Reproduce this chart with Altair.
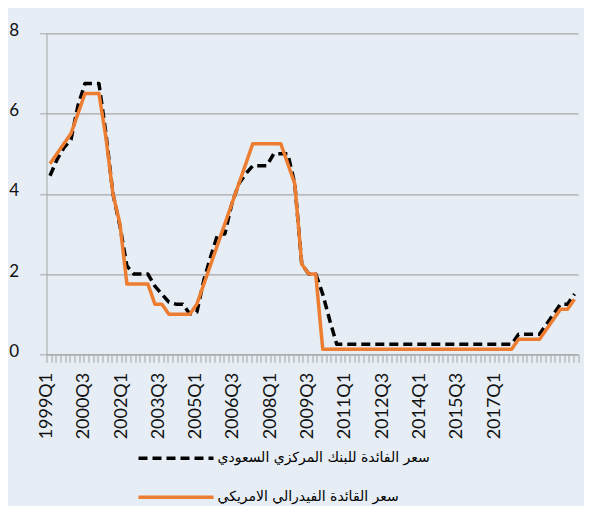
import json
import altair as alt
import pandas as pd

# ---- data ----
years = list(range(1999, 2018))
quarters = [f"{y}Q{q}" for y in years for q in (1, 2, 3, 4)]  # 76 quarters

saudi_name = "سعر الفائدة للبنك المركزي السعودي"
fed_name = "سعر القائدة الفيدرالي الامريكي"

saudi = [
    4.45, 4.85, 5.15, 5.35,   # 1999
    6.2, 6.75, 6.75, 6.75,    # 2000
    5.5, 4.0, 3.2, 2.2,       # 2001
    2.0, 2.0, 2.0, 1.7,       # 2002
    1.5, 1.3, 1.25, 1.25,     # 2003
    1.0, 1.05, 1.85, 2.45,    # 2004
    3.0, 3.0, 3.75, 4.25,     # 2005
    4.5, 4.7, 4.7, 4.7,       # 2006
    5.0, 5.0, 5.0, 4.25,      # 2007
    2.25, 2.0, 2.0, 1.5,      # 2008
    0.85, 0.25, 0.25, 0.25,   # 2009
    0.25, 0.25, 0.25, 0.25,   # 2010
    0.25, 0.25, 0.25, 0.25,   # 2011
    0.25, 0.25, 0.25, 0.25,   # 2012
    0.25, 0.25, 0.25, 0.25,   # 2013
    0.25, 0.25, 0.25, 0.25,   # 2014
    0.25, 0.25, 0.25, 0.5,    # 2015
    0.5, 0.5, 0.5, 0.75,      # 2016
    1.0, 1.25, 1.25, 1.5,     # 2017
]

fed = [
    4.75, 5.0, 5.25, 5.5,     # 1999
    6.0, 6.5, 6.5, 6.5,       # 2000
    5.4, 4.0, 3.25, 1.75,     # 2001
    1.75, 1.75, 1.75, 1.25,   # 2002
    1.25, 1.0, 1.0, 1.0,      # 2003
    1.0, 1.25, 1.75, 2.25,    # 2004
    2.75, 3.25, 3.75, 4.25,   # 2005
    4.75, 5.25, 5.25, 5.25,   # 2006
    5.25, 5.25, 4.75, 4.25,   # 2007
    2.25, 2.0, 2.0, 0.125,    # 2008
    0.125, 0.125, 0.125, 0.125,  # 2009
    0.125, 0.125, 0.125, 0.125,  # 2010
    0.125, 0.125, 0.125, 0.125,  # 2011
    0.125, 0.125, 0.125, 0.125,  # 2012
    0.125, 0.125, 0.125, 0.125,  # 2013
    0.125, 0.125, 0.125, 0.125,  # 2014
    0.125, 0.125, 0.125, 0.375,  # 2015
    0.375, 0.375, 0.375, 0.625,  # 2016
    0.875, 1.125, 1.125, 1.375,  # 2017
]

# category-axis labels as printed in the reference (one label every 8 tick slots)
axis_labels = ["1999Q1", "2000Q3", "2002Q1", "2003Q3", "2005Q1", "2006Q3", "2008Q1",
               "2009Q3", "2011Q1", "2012Q3", "2014Q1", "2015Q3", "2017Q1"]
n_slots = 114          # tick slots along the category axis
slots_per_quarter = 1.5
label_every = 8

y_ticks = [0, 2, 4, 6, 8]

# ---- table ----
n = len(quarters)
df = pd.DataFrame({
    "qi": list(range(n)) * 2,
    "quarter": quarters * 2,
    "rate": saudi + fed,
    "series": [saudi_name] * n + [fed_name] * n,
})

label_expr = (
    f"(datum.value % {label_every} == 0 && datum.value / {label_every} < {len(axis_labels)}) "
    f"? {json.dumps(axis_labels)}[datum.value / {label_every}] : ''"
)

GRID = "#a6a6a6"

legend_kw = dict(
    title=None,
    orient="none",
    legendX=90,
    legendY=415,
    direction="vertical",
    symbolType="stroke",
    symbolSize=5625,
    symbolStrokeWidth=3.5,
    labelFont="DejaVu Sans",
    labelFontSize=14,
    labelColor="#000000",
    labelOffset=2,
    labelLimit=0,
    clipHeight=20,
    rowPadding=19,
)

chart = (
    alt.Chart(df)
    .transform_calculate(pos=f"(datum.qi + 0.5) * {slots_per_quarter}")
    .mark_line(strokeWidth=3.5, strokeJoin="round")
    .encode(
        x=alt.X(
            "pos:Q",
            scale=alt.Scale(domain=[0, n_slots], nice=False, zero=False),
            axis=alt.Axis(
                values=list(range(n_slots + 1)),
                labelExpr=label_expr,
                labelAngle=270,
                labelOverlap=False,
                labelFlush=False,
                labelFont="Lato",
                labelFontSize=18,
                labelColor="#111111",
                labelPadding=10,
                tickSize=8,
                tickColor=GRID,
                domainColor=GRID,
                grid=False,
                title=None,
            ),
        ),
        y=alt.Y(
            "rate:Q",
            scale=alt.Scale(domain=[0, 8], nice=False),
            axis=alt.Axis(
                values=y_ticks,
                grid=True,
                gridColor=GRID,
                gridWidth=1.2,
                domainColor=GRID,
                tickColor=GRID,
                tickSize=7,
                labelFont="Lato",
                labelFontSize=17,
                labelColor="#111111",
                labelPadding=21,
                labelOffset=-3,
                title=None,
            ),
        ),
        color=alt.Color(
            "series:N",
            scale=alt.Scale(domain=[saudi_name, fed_name], range=["#000000", "#ED7D31"]),
            legend=alt.Legend(**legend_kw),
        ),
        strokeDash=alt.StrokeDash(
            "series:N",
            scale=alt.Scale(domain=[saudi_name, fed_name], range=[[9, 5], [1, 0]]),
            legend=alt.Legend(**legend_kw),
        ),
        order=alt.Order("series:N", sort="ascending"),
    )
    .properties(
        width=531.5,
        height=321,
        autosize=alt.AutoSizeParams(type="none"),
        padding={"left": 38.5, "top": 25.3, "right": 6, "bottom": 152},
        background="#e6edf4",
    )
    .configure_view(stroke=None)
)

chart.save("out.html", embed_options={"renderer": "svg", "actions": False})
